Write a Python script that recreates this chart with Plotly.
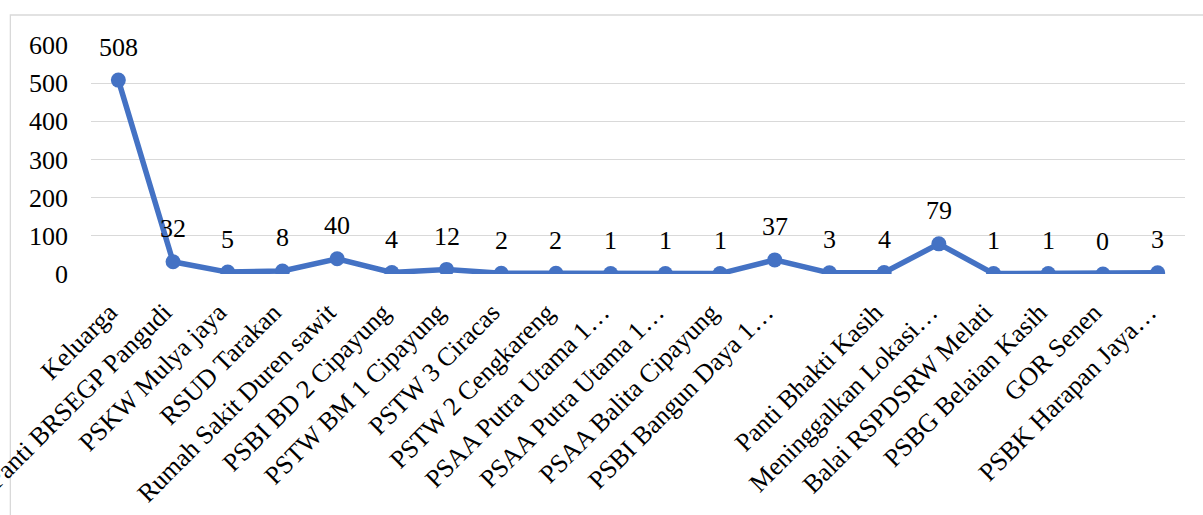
import plotly.graph_objects as go

categories = [
    "Keluarga", "Panti BRSEGP Pangudi", "PSKW Mulya jaya", "RSUD Tarakan",
    "Rumah Sakit Duren sawit", "PSBI BD 2 Cipayung", "PSTW BM 1 Cipayung",
    "PSTW 3 Ciracas", "PSTW 2 Cengkareng", "PSAA Putra Utama 1…",
    "PSAA Putra Utama 1…", "PSAA Balita Cipayung", "PSBI Bangun Daya 1…",
    "", "Panti Bhakti Kasih", "Meninggalkan Lokasi…", "Balai RSPDSRW Melati",
    "PSBG Belaian Kasih", "GOR Senen", "PSBK Harapan Jaya…",
]
values = [508, 32, 5, 8, 40, 4, 12, 2, 2, 1, 1, 1, 37, 3, 4, 79, 1, 1, 0, 3]
y_ticks = [0, 100, 200, 300, 400, 500, 600]

FONT = "Liberation Serif"
BLUE = "#4472C4"
GRID = "#D9D9D9"
FS = 26

xs = list(range(len(categories)))

fig = go.Figure()
fig.add_trace(go.Scatter(
    x=xs, y=values, mode="lines+markers",
    line=dict(color=BLUE, width=5.5),
    marker=dict(color=BLUE, size=15),
    hoverinfo="skip", showlegend=False,
))

annotations = []
for x, v in zip(xs, values):
    annotations.append(dict(
        x=x, y=v, xref="x", yref="y", text=str(v), showarrow=False,
        yshift=33, font=dict(family=FONT, size=FS, color="#000000"),
    ))

fig.update_layout(
    width=1203, height=515,
    margin=dict(l=91, r=18, t=45, b=241),
    paper_bgcolor="white", plot_bgcolor="white",
    font=dict(family=FONT, size=FS, color="#000000"),
    annotations=annotations,
    xaxis=dict(
        range=[-0.5, len(categories) - 0.5],
        tickmode="array", tickvals=xs, ticktext=categories,
        tickangle=-45, showgrid=False, zeroline=False, showline=False,
        ticks="", ticklabelstandoff=17, ticklabelshift=-9,
        ticklabeloverflow="allow", automargin=False,
        tickfont=dict(family=FONT, size=FS, color="#000000"),
    ),
    yaxis=dict(
        range=[0, 600], tickmode="array", tickvals=y_ticks,
        showgrid=True, gridcolor=GRID, gridwidth=1.3,
        zeroline=False, showline=False, ticks="",
        ticklabelstandoff=22, automargin=False,
        tickfont=dict(family=FONT, size=FS, color="#000000"),
    ),
    shapes=[dict(
        type="rect", xref="paper", yref="paper",
        x0=-0.0737, x1=1.03, y0=-1.1, y1=1.131,
        line=dict(color=GRID, width=1.3), fillcolor="rgba(0,0,0,0)",
        layer="below",
    )],
)

fig.write_html("out.html")
